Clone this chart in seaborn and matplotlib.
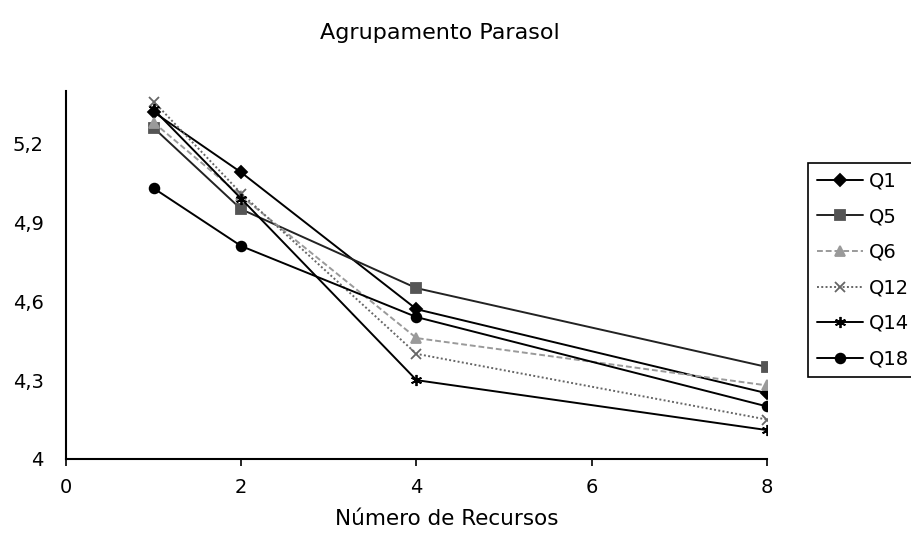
import matplotlib
matplotlib.use("Agg")
import matplotlib.pyplot as plt
import seaborn as sns
import pandas as pd

# Data
recursos = [1, 2, 4, 8]
q1 = [5.32, 5.09, 4.57, 4.25]
q5 = [5.26, 4.95, 4.65, 4.35]
q6 = [5.28, 5.00, 4.46, 4.28]
q12 = [5.36, 5.01, 4.40, 4.15]
q14 = [5.33, 4.99, 4.30, 4.11]
q18 = [5.03, 4.81, 4.54, 4.20]
series_names = ["Q1", "Q5", "Q6", "Q12", "Q14", "Q18"]
series_values = [q1, q5, q6, q12, q14, q18]
x_ticks = [0, 2, 4, 6, 8]
y_ticks = [4.0, 4.3, 4.6, 4.9, 5.2]
y_tick_labels = ["4", "4,3", "4,6", "4,9", "5,2"]

sns.set_style("white")
plt.rcParams["font.family"] = ["DejaVu Sans"]
plt.rcParams["text.color"] = "black"
plt.rcParams["axes.labelcolor"] = "black"

fig = plt.figure(figsize=(9.12, 5.38), dpi=100)
ax = fig.add_axes([66 / 912, 1 - 459 / 538, (767 - 66) / 912, (459 - 91) / 538])

colors = {"Q1": "black", "Q5": "#222222", "Q6": "#9a9a9a", "Q12": "#666666",
          "Q14": "black", "Q18": "black"}
mcolors = {"Q1": "black", "Q5": "#555555", "Q6": "#9a9a9a", "Q12": "#666666",
           "Q14": "black", "Q18": "black"}
markers = {"Q1": "D", "Q5": "s", "Q6": "^", "Q12": "x", "Q14": (6, 2, 0), "Q18": "o"}
msizes = {"Q1": 6, "Q5": 7, "Q6": 7, "Q12": 7, "Q14": 8, "Q18": 7}
lstyles = {"Q1": "-", "Q5": "-", "Q6": (0, (3, 1.5)), "Q12": (0, (1, 1.2)),
           "Q14": "-", "Q18": "-"}

for name, vals in zip(series_names, series_values):
    d = pd.DataFrame({"Recursos": recursos, "Valor": vals})
    sns.lineplot(data=d, x="Recursos", y="Valor", ax=ax, label=name,
                 color=colors[name], marker=markers[name], markersize=msizes[name],
                 markerfacecolor=mcolors[name], markeredgecolor=mcolors[name],
                 markeredgewidth=1.3, linewidth=1.4, linestyle=lstyles[name])

ax.set_xlim(0, 8)
ax.set_ylim(4.0, 5.40)
ax.set_xticks(x_ticks)
ax.set_xticklabels([str(t) for t in x_ticks])
ax.set_yticks(y_ticks)
ax.set_yticklabels(y_tick_labels)
ax.tick_params(axis="both", labelsize=14, colors="black", labelcolor="black")
ax.tick_params(axis="x", direction="out", length=5, width=1.2, bottom=True, pad=9)
ax.tick_params(axis="y", direction="out", length=0, pad=16)
for s in ["top", "right"]:
    ax.spines[s].set_visible(False)
for s in ["left", "bottom"]:
    ax.spines[s].set_color("black")
    ax.spines[s].set_linewidth(1.5)

ax.set_xlabel("Número de Recursos", fontsize=15.5, color="black")
ax.xaxis.set_label_coords((447 - 66) / (767 - 66), -(519 - 459) / (459 - 91))
ax.xaxis.label.set_va("center")
ax.set_ylabel("")

fig.text(440 / 912, 1 - 33 / 538, "Agrupamento Parasol", ha="center", va="center",
         fontsize=16, color="black")

handles, labels = ax.get_legend_handles_labels()
leg = ax.legend(handles, labels, loc="upper left",
                bbox_to_anchor=(808 / 912, 1 - 163 / 538, 118 / 912, 0),
                bbox_transform=fig.transFigure, mode="expand",
                borderaxespad=0, frameon=True, fancybox=False, edgecolor="black",
                fontsize=14, handlelength=2.4, handletextpad=0.3, labelspacing=0.85,
                borderpad=0.45, framealpha=1)
leg.get_frame().set_linewidth(1.2)
for t in leg.get_texts():
    t.set_color("black")

fig.savefig("out.png", dpi=100)
